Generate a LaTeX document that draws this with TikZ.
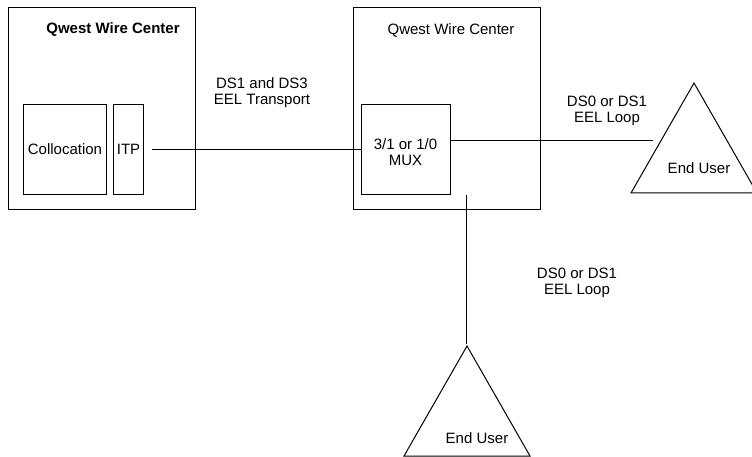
\documentclass[tikz,border=0pt]{standalone}
\usepackage{fontspec}
\setmainfont{Liberation Sans}
\begin{document}
\begin{tikzpicture}[x=1pt,y=-1pt,
  every node/.style={font=\fontsize{15}{16}\selectfont},
  box/.style={draw,line width=1pt,rectangle,anchor=north west,inner sep=0pt},
  lbl/.style={align=center,inner sep=0pt},
  wire/.style={line width=1pt}]
\useasboundingbox (0,0) rectangle (752,457);
% outer wire centers
\node[box,minimum width=187pt,minimum height=202pt] (lwc) at (8,7) {};
\node[box,minimum width=187pt,minimum height=202pt] (rwc) at (353,7) {};
\node[lbl,font=\fontsize{15}{16}\selectfont\bfseries] (lwct) at (113,30) {Qwest Wire Center};
\node[lbl] (rwct) at (451,30) {Qwest Wire Center};
% inner boxes
\node[box,minimum width=83pt,minimum height=90pt] (coll) at (23,104) {};
\node[box,minimum width=30pt,minimum height=90pt] (itp) at (113,104) {};
\node[box,minimum width=89pt,minimum height=90pt] (mux) at (361,104) {};
\node[lbl] (collt) at (coll.center) {Collocation};
\node[lbl] (itpt) at (itp.center) {ITP};
\node[lbl] (muxt) at (405.5,152) {3/1 or 1/0\\MUX};
% end users
\coordinate (eu1a) at (694,83);
\coordinate (eu1l) at (631,193);
\coordinate (eu1r) at (757,193);
\draw[wire] (eu1a) -- (eu1l) -- (eu1r) -- cycle;
\node[lbl] (eu1t) at (699,168) {End User};
\coordinate (eu2a) at (467,346);
\coordinate (eu2l) at (404,456);
\coordinate (eu2r) at (530,456);
\draw[wire] (eu2a) -- (eu2l) -- (eu2r) -- cycle;
\node[lbl] (eu2t) at (477,438) {End User};
% connectors
\coordinate (eu1in) at (653,141);
\coordinate (vtop) at (466,195);
\coordinate (vbot) at (466,344);
\draw[wire] ([xshift=8pt]itp.east) -- (mux.west);
\draw[wire] (mux.east |- eu1in) -- (eu1in);
\draw[wire] (vtop) -- (vbot);
% labels
\node[lbl] (trl) at (262,93) {DS1 and DS3\\EEL Transport};
\node[lbl] (l1) at (607,111) {DS0 or DS1\\EEL Loop};
\node[lbl] (l2) at (577,283) {DS0 or DS1\\EEL Loop};
\end{tikzpicture}
\end{document}
